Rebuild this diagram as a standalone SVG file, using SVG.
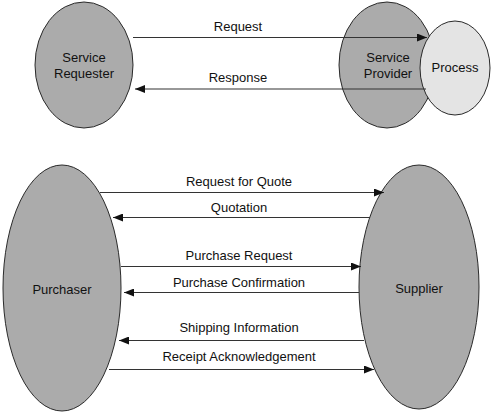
<svg xmlns="http://www.w3.org/2000/svg" width="500" height="415" viewBox="0 0 500 415">
<style>
.node{fill:#ababab;stroke:#2a2a2a;stroke-width:1}
.proc{fill:#e4e4e4;stroke:#2a2a2a;stroke-width:1}
.lbl{font-family:"Liberation Sans",Arial,sans-serif;font-size:13px;fill:#111;text-anchor:middle}
.conn line{stroke:#333;stroke-width:1.2;fill:none}
</style>
<defs>
<marker id="ah" viewBox="0 0 10 8" refX="10" refY="4" markerWidth="10" markerHeight="8" markerUnits="userSpaceOnUse" orient="auto">
<path d="M0,0 L10,4 L0,8 Z" fill="#111"/>
</marker>
</defs>
<rect width="500" height="415" fill="#fff"/>
<g id="service-requester">
<ellipse class="node" cx="84" cy="65" rx="49" ry="63"/>
<text class="lbl" x="84" y="62">Service</text>
<text class="lbl" x="84" y="78">Requester</text>
</g>
<g id="service-provider">
<ellipse class="node" cx="387" cy="65" rx="48" ry="63"/>
<text class="lbl" x="388" y="62">Service</text>
<text class="lbl" x="388" y="78">Provider</text>
</g>
<g id="process">
<ellipse class="proc" cx="455" cy="68" rx="35" ry="47"/>
<text class="lbl" x="455" y="72">Process</text>
</g>
<g id="purchaser">
<ellipse class="node" cx="62" cy="288" rx="59" ry="123"/>
<text class="lbl" x="62" y="294">Purchaser</text>
</g>
<g id="supplier">
<ellipse class="node" cx="419" cy="287" rx="60" ry="122"/>
<text class="lbl" x="419" y="293">Supplier</text>
</g>
<g id="connectors" class="conn">
<line x1="133" y1="37.5" x2="427" y2="37.5" marker-end="url(#ah)"/>
<line x1="426" y1="89" x2="135" y2="89" marker-end="url(#ah)"/>
<line x1="100" y1="192.5" x2="384" y2="192.5" marker-end="url(#ah)"/>
<line x1="370" y1="217.5" x2="113" y2="217.5" marker-end="url(#ah)"/>
<line x1="121" y1="266.5" x2="361" y2="266.5" marker-end="url(#ah)"/>
<line x1="359" y1="292.5" x2="124" y2="292.5" marker-end="url(#ah)"/>
<line x1="364" y1="340.5" x2="119" y2="340.5" marker-end="url(#ah)"/>
<line x1="109" y1="369.5" x2="374" y2="369.5" marker-end="url(#ah)"/>
</g>
<g id="labels">
<text class="lbl" x="238" y="31">Request</text>
<text class="lbl" x="238" y="82">Response</text>
<text class="lbl" x="239" y="186">Request for Quote</text>
<text class="lbl" x="239" y="212">Quotation</text>
<text class="lbl" x="239" y="260">Purchase Request</text>
<text class="lbl" x="239" y="287">Purchase Confirmation</text>
<text class="lbl" x="239" y="332">Shipping Information</text>
<text class="lbl" x="239" y="361">Receipt Acknowledgement</text>
</g>
</svg>
